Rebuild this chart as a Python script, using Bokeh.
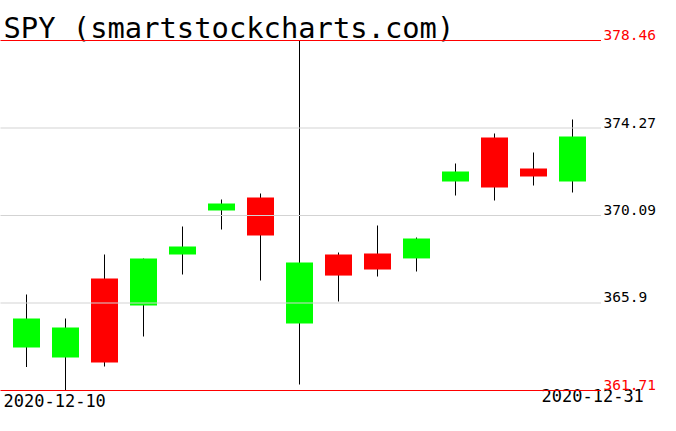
from bokeh.plotting import figure
from bokeh.models import Label, Range1d, ColumnDataSource
from bokeh.embed import file_html
from bokeh.resources import INLINE

title = "SPY (smartstockcharts.com)"
dates = ["2020-12-10", "2020-12-11", "2020-12-14", "2020-12-15", "2020-12-16",
         "2020-12-17", "2020-12-18", "2020-12-21", "2020-12-22", "2020-12-23",
         "2020-12-24", "2020-12-28", "2020-12-29", "2020-12-30", "2020-12-31"]
opens = [363.77, 363.29, 367.07, 365.78, 368.22, 370.32, 370.95, 364.92,
         368.22, 368.27, 368.03, 371.71, 373.82, 372.33, 371.71]
highs = [366.30, 365.16, 368.22, 368.03, 369.56, 370.85, 371.14, 378.46,
         368.31, 369.61, 369.03, 372.57, 374.01, 373.10, 374.68]
lows = [362.83, 361.71, 362.86, 364.29, 367.26, 369.42, 366.97, 362.00,
        365.97, 367.17, 367.41, 371.04, 370.80, 371.52, 371.19]
closes = [365.16, 364.73, 363.05, 368.03, 368.60, 370.66, 369.13, 367.84,
          367.21, 367.50, 368.98, 372.19, 371.43, 371.95, 373.87]
tick_values = [378.46, 374.27, 370.09, 365.90, 361.71]
tick_labels = ["378.46", "374.27", "370.09", "365.9", "361.71"]

GREEN = "#00ff00"
RED = "#ff0000"
GRAY = "#d3d3d3"
FONT = "DejaVu Sans Mono"

n = len(dates)
xs = list(range(n))
tops = [max(o, c) for o, c in zip(opens, closes)]
bottoms = [min(o, c) for o, c in zip(opens, closes)]
colors = [GREEN if c >= o else RED for o, c in zip(opens, closes)]

src = ColumnDataSource(dict(x=xs, open=opens, high=highs, low=lows, close=closes,
                            top=tops, bottom=bottoms, color=colors, date=dates))

W, H = 676, 431
pitch = 39.0
x_start = -26.0 / pitch
x_end = x_start + W / pitch
x_grid_end = x_start + 600.5 / pitch

ymax, ymin = max(highs), min(lows)
ppu = 350.0 / (ymax - ymin)
y_end = ymax + 40.0 / ppu
y_start = ymin - 41.0 / ppu

p = figure(width=W, height=H, output_backend="svg", toolbar_location=None,
           x_range=Range1d(x_start, x_end), y_range=Range1d(y_start, y_end),
           x_axis_location=None, y_axis_location=None,
           min_border_left=0, min_border_right=0,
           min_border_top=0, min_border_bottom=0)
p.grid.visible = False
p.outline_line_color = None
p.background_fill_color = "white"
p.border_fill_color = "white"

# wicks as 1px-wide bars, bodies on top
p.vbar(x="x", width=1.0 / pitch, top="high", bottom="low", source=src,
       fill_color="black", line_color=None)
p.vbar(x="x", width=27.0 / pitch, top="top", bottom="bottom", source=src,
       fill_color="color", line_color=None)

line_colors = [RED if v in (ymax, ymin) else GRAY for v in tick_values]
label_colors = [RED if v in (ymax, ymin) else "black" for v in tick_values]
p.hbar(y=tick_values, height=1.0 / ppu, left=x_start, right=x_grid_end,
       fill_color=line_colors, line_color=None, level="overlay")

for v, lab, col in zip(tick_values, tick_labels, label_colors):
    p.add_layout(Label(x=603, y=v, x_units="screen", y_units="data", text=lab,
                       y_offset=5.5,
                       text_font=FONT, text_font_size="14.5px", text_color=col,
                       text_baseline="alphabetic", text_align="left",
                       level="overlay"))

p.add_layout(Label(x=3, y=404, x_units="screen", y_units="screen", text=title,
                   text_font=FONT, text_font_size="28.8px", text_color="black",
                   text_baseline="alphabetic", text_align="left"))
p.add_layout(Label(x=3, y=31, x_units="screen", y_units="screen", text=dates[0],
                   text_font=FONT, text_font_size="17px", text_color="black",
                   text_baseline="alphabetic", text_align="left"))
p.add_layout(Label(x=541, y=36.5, x_units="screen", y_units="screen", text=dates[-1],
                   text_font=FONT, text_font_size="17px", text_color="black",
                   text_baseline="alphabetic", text_align="left"))

open("out.html", "w").write(file_html(p, INLINE))
